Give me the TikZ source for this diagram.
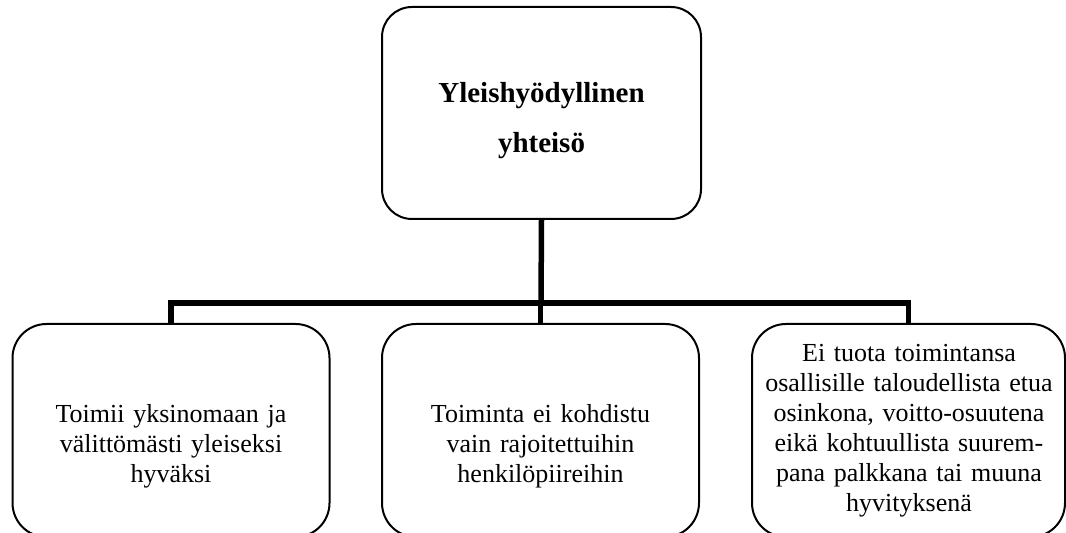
\documentclass[tikz,border=0pt]{standalone}
\usepackage{fontspec}
\setmainfont{Liberation Serif}
\begin{document}
\begin{tikzpicture}[x=0.5pt,y=-0.5pt,
  topbox/.style={draw, line width=1pt, rounded corners=15pt, minimum width=159.5pt, minimum height=106pt, inner sep=0pt},
  botbox/.style={draw, line width=1pt, rounded corners=17pt, minimum width=158.5pt, minimum height=106.5pt, inner sep=0pt},
  txt/.style={font=\fontsize{13}{15}\selectfont, text width=160pt, align=center, anchor=base, inner sep=0pt},
  toptxt/.style={font=\bfseries\fontsize{14.5}{25}\selectfont, text width=160pt, align=center, anchor=base, inner sep=0pt},
  conn/.style={line width=2.75pt}]
\useasboundingbox (0,0) rectangle (1066,533);
\clip (0,0) rectangle (1066,533);
\node[topbox] (top) at (541.5,113) {};
\node[botbox] (b1) at (171,430.5) {};
\node[botbox] (b2) at (540.5,430.5) {};
\node[botbox, minimum width=156.5pt] (b3) at (908.5,430.5) {};
\node[toptxt] (t0) at (541.5,103) {Yleishyödyllinen\\yhteisö};
\node[txt] (t1) at (171,423) {Toimii yksinomaan ja\\välittömästi yleiseksi\\hyväksi};
\node[txt] (t2) at (540.5,423) {Toiminta ei kohdistu\\vain rajoitettuihin\\henkilöpiireihin};
\node[txt] (t3) at (909,362) {Ei tuota toimintansa\\osallisille taloudellista etua\\osinkona, voitto-osuutena\\eikä kohtuullista suurem-\\pana palkkana tai muuna\\hyvityksenä};
\coordinate (bar) at (541,303);
\draw[conn] (top.south) -- (bar);
\draw[conn] (b1.north) |- (bar) -| (b3.north);
\draw[conn] (b2.north) -- (b2.north |- bar);
\end{tikzpicture}
\end{document}
